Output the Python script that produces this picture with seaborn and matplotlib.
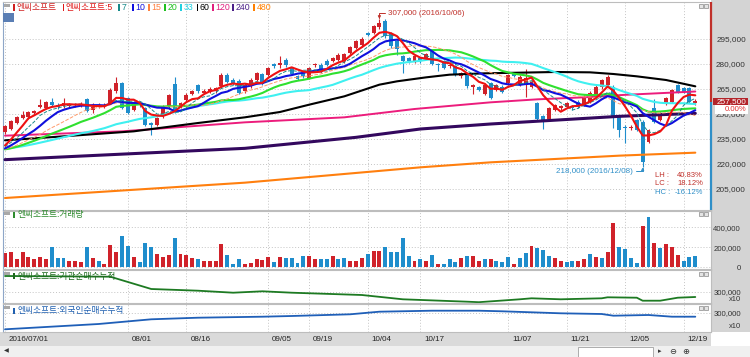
import numpy as np
import pandas as pd
import matplotlib
matplotlib.use('Agg')
import matplotlib.pyplot as plt
import matplotlib.transforms as mtrans
from matplotlib.patches import Rectangle
import seaborn as sns

sns.set_style('white')
plt.rcParams['font.family'] = ['Liberation Sans', 'Noto Sans CJK KR', 'DejaVu Sans']

# --- data (prices in thousand won) ---
holidays = ['2016-08-15', '2016-09-14', '2016-09-15', '2016-09-16', '2016-10-03']
dates = pd.bdate_range('2016-07-01', '2016-12-21', freq='C', holidays=holidays)

opens = [239.2, 241.2, 244.6, 247.6, 248.0, 250.6, 254.0, 253.6, 257.2, 255.6,
         254.6, 254.6, 255.2, 255.2, 258.8, 252.6, 254.6, 254.6, 256.6, 263.6,
         268.6, 259.6, 252.6, 256.6, 253.6, 244.6, 243.6, 248.6, 254.4, 268.0,
         254.6, 258.6, 262.0, 267.2, 262.6, 263.6, 263.6, 266.6, 273.6, 270.6,
         270.0, 263.6, 266.6, 270.6, 274.0, 273.6, 280.0, 279.2, 282.6, 277.6,
         272.6, 274.6, 271.6, 279.2, 279.6, 282.0, 282.0, 282.6, 281.6, 286.6,
         289.6, 291.2, 298.6, 298.6, 302.0, 306.0, 298.6, 293.6, 284.6, 283.6,
         281.6, 283.6, 283.6, 287.6, 280.0, 281.6, 278.6, 278.6, 272.6, 273.6,
         266.2, 266.0, 262.0, 268.6, 264.4, 266.4, 268.4, 274.4, 267.4, 267.4,
         266.4, 256.4, 248.8, 246.8, 252.4, 253.4, 254.4, 254.8, 257.4, 255.4,
         257.4, 261.4, 266.0, 267.4, 266.4, 248.4, 242.4, 241.4, 246.4, 245.4,
         233.4, 253.4, 246.4, 256.4, 257.4, 267.4, 265.4, 265.4, 256.4]
highs = [243.4, 246.4, 248.8, 251.6, 252.0, 252.4, 259.2, 258.0, 259.6, 256.4,
         259.6, 256.8, 256.8, 257.0, 259.6, 256.6, 256.4, 256.4, 265.4, 272.0,
         269.4, 260.4, 256.4, 257.4, 254.4, 245.4, 248.4, 255.4, 262.0, 272.0,
         257.4, 262.4, 264.4, 268.0, 264.8, 266.0, 266.4, 274.4, 274.6, 271.4,
         270.8, 268.4, 271.4, 275.4, 274.8, 278.4, 280.8, 284.6, 283.4, 278.4,
         273.4, 275.4, 278.4, 280.8, 280.4, 282.8, 284.4, 286.4, 286.8, 290.8,
         294.4, 296.0, 299.4, 303.4, 307.0, 306.8, 299.4, 294.4, 285.4, 284.4,
         285.4, 284.4, 286.8, 288.4, 280.8, 282.4, 280.4, 279.4, 275.4, 274.4,
         268.0, 266.8, 268.4, 269.4, 268.2, 267.2, 274.2, 275.2, 273.2, 276.8,
         270.2, 257.2, 249.6, 254.2, 256.2, 255.6, 257.2, 255.6, 258.2, 261.2,
         263.6, 267.2, 271.2, 273.2, 267.2, 249.2, 243.2, 243.2, 247.2, 246.2,
         241.2, 258.8, 251.2, 260.2, 265.2, 268.2, 266.2, 266.2, 258.8]
lows = [238.0, 240.4, 243.8, 246.8, 247.2, 249.8, 253.6, 252.8, 254.8, 253.2,
        253.6, 253.8, 254.4, 254.4, 251.2, 250.6, 253.8, 253.8, 255.8, 262.8,
        252.8, 249.8, 251.8, 254.4, 242.8, 237.6, 242.8, 247.8, 253.6, 250.8,
        253.8, 257.8, 261.2, 262.8, 261.8, 262.8, 262.8, 265.8, 268.4, 267.2,
        261.8, 262.8, 265.8, 269.8, 267.2, 272.8, 277.8, 277.6, 278.4, 273.2,
        270.4, 271.8, 270.8, 278.4, 274.8, 278.8, 281.2, 281.8, 280.8, 285.8,
        288.8, 290.4, 296.8, 297.8, 301.2, 295.8, 289.8, 285.6, 274.6, 280.8,
        280.8, 280.8, 282.8, 279.2, 275.6, 276.8, 277.8, 272.8, 271.8, 265.8,
        262.0, 263.8, 261.2, 258.8, 263.6, 262.6, 267.6, 272.0, 266.6, 260.4,
        265.6, 246.0, 240.8, 246.0, 251.6, 252.6, 253.6, 252.6, 253.6, 254.6,
        256.6, 260.6, 265.2, 266.6, 241.4, 236.4, 232.4, 240.6, 239.6, 218.0,
        232.6, 244.6, 245.6, 255.6, 256.6, 262.6, 262.6, 256.6, 255.6]
closes = [242.6, 245.6, 248.0, 249.6, 251.2, 251.6, 255.6, 257.2, 255.6, 254.0,
          256.6, 256.0, 256.0, 256.2, 252.0, 254.0, 255.6, 255.6, 264.6, 268.6,
          253.6, 250.6, 255.6, 255.2, 243.6, 243.2, 247.6, 254.6, 261.2, 251.6,
          256.6, 261.6, 263.6, 263.6, 264.0, 265.2, 265.6, 273.6, 269.2, 268.0,
          262.6, 267.6, 270.6, 274.6, 268.0, 277.6, 278.6, 280.6, 279.2, 274.0,
          271.2, 272.6, 277.6, 280.0, 275.6, 279.6, 283.6, 285.6, 286.0, 290.0,
          293.6, 295.2, 297.6, 302.6, 304.6, 296.6, 290.6, 289.2, 282.0, 281.6,
          284.6, 281.6, 286.0, 280.0, 279.2, 277.6, 279.6, 273.6, 274.6, 266.6,
          267.2, 264.6, 267.6, 259.6, 267.4, 263.4, 273.4, 272.8, 272.4, 271.4,
          269.4, 246.8, 246.4, 253.4, 255.4, 254.8, 256.4, 253.4, 254.4, 260.4,
          262.8, 266.4, 270.4, 272.4, 248.0, 240.4, 241.4, 242.4, 240.4, 221.0,
          240.4, 245.4, 250.4, 259.4, 264.4, 263.4, 263.4, 257.4, 257.5]
# closes before 2016/07/01, estimated from where the short averages start
prior_close = [231, 230, 232, 229, 228, 230, 231, 229, 227, 228, 230, 229, 231, 232, 230, 228,
               226, 227, 229, 228, 226, 227, 229, 228, 227, 226, 228, 229, 228, 227, 229, 229]

volume = [145, 155, 78, 155, 100, 78, 100, 80, 202, 95, 95, 60, 60, 55, 200, 90, 60, 35, 222, 155,
          312, 210, 100, 55, 245, 200, 135, 100, 120, 295, 135, 120, 90, 80, 60, 60, 60, 235, 120, 35,
          80, 35, 45, 78, 68, 102, 55, 102, 88, 88, 45, 112, 112, 78, 78, 78, 112, 78, 88, 60,
          60, 95, 130, 160, 160, 200, 155, 155, 295, 112, 60, 78, 60, 120, 35, 35, 78, 55, 88, 112,
          112, 60, 78, 78, 60, 53, 97, 30, 90, 143, 210, 187, 170, 110, 87, 60, 53, 60, 60, 80,
          130, 103, 87, 150, 443, 197, 177, 87, 43, 417, 503, 243, 187, 237, 203, 120, 63, 97, 110]
vol_dir = ('rrrrrrrrbbbrrrbrbrrrbbrbbbrrrbrrrbrrrrbbbr'
           'rrrrbrbbbbrrbbrbbrrrbrrbbbbbrbrbrbbbrbrrbrb'
           'bbrbbrbbbrrbbrrbrbrrbbbbrbrbrrrbbbr')

ma60_i = [0, 10, 22, 33, 41, 47, 52, 58, 64, 67, 72, 76, 82, 88, 94, 100, 104, 108, 113, 118]
ma60_v = [234.2, 236.6, 239.6, 244.6, 248.0, 251.2, 255.6, 260.6, 267.6, 269.6,
          272.0, 273.6, 274.4, 274.8, 275.2, 275.0, 274.0, 272.6, 270.4, 266.6]
ma120_i = [0, 20, 41, 58, 70, 83, 91, 99, 106, 118]
ma120_v = [237.0, 239.6, 245.0, 248.0, 253.0, 257.0, 258.8, 260.0, 261.5, 263.5]
ma240_i = [0, 41, 60, 71, 83, 95, 105, 118]
ma240_v = [222.6, 229.4, 236.0, 241.0, 244.0, 246.5, 248.6, 250.4]
ma480_i = [0, 41, 71, 83, 105, 118]
ma480_v = [199.6, 208.8, 218.0, 221.0, 225.0, 226.8]

inst_i = [0, 18, 25, 33, 39, 44, 49, 61, 68, 79, 81, 88, 90, 95, 102, 103, 108, 109, 112, 115, 118]
inst_v = [460, 453, 330, 313, 293, 307, 293, 270, 227, 203, 198, 227, 237, 227, 237, 247, 243, 213, 213, 243, 250]
frgn_i = [0, 16, 25, 33, 44, 49, 59, 64, 73, 81, 85, 90, 95, 102, 104, 110, 114, 118]
frgn_v = [137, 190, 237, 253, 263, 270, 287, 313, 323, 323, 317, 307, 297, 290, 273, 280, 263, 263]

tick_dates = ['2016-07-01', '2016-08-01', '2016-08-16', '2016-09-05', '2016-09-19', '2016-10-04',
              '2016-10-17', '2016-11-07', '2016-11-21', '2016-12-05', '2016-12-19']
tick_text = ['2016/07/01', '08/01', '08/16', '09/05', '09/19', '10/04', '10/17', '11/07', '11/21', '12/05', '12/19']

# --- derived ---
idx = np.arange(len(dates))
O, Hh, L, C = [np.array(a) * 1000 for a in (opens, highs, lows, closes)]
close_all = pd.Series(prior_close + closes) * 1000
ma = {n: close_all.rolling(n).mean().values[len(prior_close):] for n in (5, 7, 10, 15, 20, 33)}
tick_pos = dates.get_indexer(pd.to_datetime(tick_dates))

RED, BLUE = '#d0222a', '#1f8dcc'
W, Hpx = 750, 357


def rect(x0, y0, x1, y1):
    return [x0 / W, 1 - y1 / Hpx, (x1 - x0) / W, (y1 - y0) / Hpx]


fig = plt.figure(figsize=(7.5, 3.57), dpi=100)


def bg(x0, y0, x1, y1, color, z=-10, ec='none'):
    fig.patches.append(Rectangle((x0 / W, 1 - y1 / Hpx), (x1 - x0) / W, (y1 - y0) / Hpx,
                                 transform=fig.transFigure, facecolor=color, edgecolor=ec,
                                 lw=0.6, zorder=z))


bg(711, 0, 750, 331.5, '#d4d4d4')
bg(0, 331.5, 711, 346, '#dadada')
bg(0, 346, 750, 357, '#f0f0f0')

xlim = (-2 / 5.85, 706 / 5.85)
grid_kw = dict(color='#c4c4c4', linestyle=(0, (1, 2)), lw=0.7)

ax_p = fig.add_axes(rect(3, 2, 711, 209.5))
ax_v = fig.add_axes(rect(3, 210.5, 711, 269))
ax_g = fig.add_axes(rect(3, 270, 711, 303))
ax_f = fig.add_axes(rect(3, 304, 711, 331.5))

for ax in (ax_p, ax_v, ax_g, ax_f):
    ax.set_xlim(*xlim)
    ax.set_xticks(tick_pos)
    ax.grid(True, **grid_kw)
    ax.yaxis.tick_right()
    for s in ax.spines.values():
        s.set_color('#bdbdbd')
        s.set_linewidth(0.8)
    ax.spines['left'].set_color('#8ea6c8')
    ax.set_axisbelow(True)

# price panel
ax_p.set_ylim(192700, 317200)
ccol = np.where(C >= O, RED, BLUE)
ax_p.vlines(idx, L, Hh, colors=ccol, lw=0.8, zorder=3)
ax_p.bar(idx, np.maximum(np.abs(C - O), 700), bottom=np.minimum(O, C), width=0.68,
         color=ccol, linewidth=0, zorder=3)

long_ma = [(ma480_i, ma480_v, '#ff7f0e', 1.5), (ma240_i, ma240_v, '#33085e', 2.2),
           (ma120_i, ma120_v, '#ec1c7c', 1.4), (ma60_i, ma60_v, '#000000', 1.5)]
for xi, yv, col, lw in long_ma:
    sns.lineplot(x=xi, y=np.array(yv) * 1000, ax=ax_p, color=col, lw=lw, zorder=4)
short_ma = [(33, '#3ff0f0', 1.5, '-'), (20, '#2fe02f', 1.5, '-'), (15, '#ff9a6a', 0.7, '--'),
            (10, '#1010dd', 1.5, '-'), (7, '#1a8a8a', 0.7, '--'), (5, '#ee1111', 1.5, '-')]
for n, col, lw, ls in short_ma:
    sns.lineplot(x=idx, y=ma[n], ax=ax_p, color=col, lw=lw, linestyle=ls, zorder=5)

ax_p.set_yticks([205000, 220000, 235000, 250000, 265000, 280000, 295000])
ax_p.set_yticklabels([f'{v:,}' for v in ax_p.get_yticks().astype(int)])
ax_p.tick_params(axis='y', length=0, pad=25.2, labelsize=5.9, labelcolor='#333333')
for lab in ax_p.get_yticklabels():
    lab.set_horizontalalignment('right')
ax_p.tick_params(axis='x', length=0, labelbottom=False)
ax_p.set_ylabel('')

ax_p.annotate('307,000 (2016/10/06)', xy=(64, 307000), xytext=(6.3, 4), textcoords='offset points',
              ha='left', va='center', fontsize=5.8, color='#c0302a',
              arrowprops=dict(arrowstyle='-|>', color='#c0302a', lw=0.7, shrinkA=0, shrinkB=0,
                              mutation_scale=4, connectionstyle='angle,angleA=0,angleB=90,rad=0'))
ax_p.annotate('218,000 (2016/12/08)', xy=(109, 218000), xytext=(-7, -3), textcoords='offset points',
              ha='right', va='center', fontsize=5.8, color='#2f8fc8',
              arrowprops=dict(arrowstyle='-|>', color='#2f8fc8', lw=0.7, shrinkA=0, shrinkB=0,
                              mutation_scale=4, connectionstyle='angle,angleA=0,angleB=90,rad=0'))
ax_p.vlines(xlim[1], 257500, 317200, color='#c0302a', lw=1.6, clip_on=False, zorder=6)
ax_p.vlines(xlim[1], 192700, 257500, color='#2f8fc8', lw=1.6, clip_on=False, zorder=6)

# volume panel
ax_v.bar(idx, np.array(volume) * 1000, width=0.68, color=[RED if d == 'r' else BLUE for d in vol_dir],
         linewidth=0)
ax_v.set_ylim(-20000, 570000)
ax_v.set_yticks([0, 200000, 400000])
ax_v.set_yticklabels(['0', '200,000', '400,000'])

# cumulative net buying panels
sns.lineplot(x=inst_i, y=np.array(inst_v) * 1000, ax=ax_g, color='#1d7a22', lw=1.3)
ax_g.set_ylim(190000, 520000)
ax_g.set_yticks([300000])
ax_g.set_yticklabels(['300,000'])
sns.lineplot(x=frgn_i, y=np.array(frgn_v) * 1000, ax=ax_f, color='#1f5fb8', lw=1.3)
ax_f.set_ylim(115000, 390000)
ax_f.set_yticks([300000])
ax_f.set_yticklabels(['300,000'])

for ax in (ax_v, ax_g, ax_f):
    ax.set_ylabel('')
    ax.tick_params(axis='y', length=0, pad=21.6, labelsize=5.6, labelcolor='#333333')
    for lab in ax.get_yticklabels():
        lab.set_horizontalalignment('right')
for ax in (ax_v, ax_g):
    ax.tick_params(axis='x', length=0, labelbottom=False)

ax_f.set_xticklabels(tick_text)
ax_f.tick_params(axis='x', length=3, width=0.8, color='#9a9a9a', pad=0.5, labelsize=5.8,
                 labelcolor='#222222')
shift = mtrans.ScaledTranslation(4 / 100, 0, fig.dpi_scale_trans)
for lab in ax_f.get_xticklabels():
    lab.set_horizontalalignment('left')
    lab.set_transform(lab.get_transform() + shift)


def ftxt(x, y, s, **kw):
    return fig.text(x / W, 1 - y / Hpx, s, **kw)


ftxt(741, 299.8, 'x10', ha='right', va='center', fontsize=5.4, color='#333333')
ftxt(741, 326.5, 'x10', ha='right', va='center', fontsize=5.4, color='#333333')

# legend row
legend_items = [('엔씨소프트', '#d02020', 14), ('엔씨소프트:5', '#e01818', 63.5), ('7', '#168a8a', 119),
                ('10', '#1010e0', 133), ('15', '#ff8040', 149), ('20', '#20c020', 165),
                ('33', '#20d0e0', 181), ('60', '#000000', 197.5), ('120', '#e0207e', 213),
                ('240', '#4b2088', 233), ('480', '#ff8000', 254)]
for name, col, x in legend_items:
    bg(x - 0.8, 4.5, x + 0.8, 10.5, col, z=6)
    ftxt(x + 2.5, 7.6, name, ha='left', va='center', fontsize=6.3, color=col)

headers = [('엔씨소프트:거래량', '#2e8b2e', 215), ('엔씨소프트:기관순매수누적', '#1d6a1d', 276),
           ('엔씨소프트:외국인순매수누적', '#2060b0', 311)]
for name, col, y in headers:
    bg(13.5, y - 3, 15, y + 3, col, z=6)
    ftxt(17, y, name, ha='left', va='center', fontsize=6.3, color=col)

for y in (4, 212, 272, 306):
    bg(3.5, y, 10, y + 2.5, '#a8a8a8', z=6)
    bg(699, y, 703, y + 4, '#e4e4e4', z=6, ec='#9a9a9a')
    bg(704, y, 708, y + 4, '#e4e4e4', z=6, ec='#9a9a9a')

bg(3, 13, 14, 22, '#5a7eb4', z=6)
ftxt(8.5, 17.3, '文', ha='center', va='center', fontsize=5.5, color='white')

# last price box (the 250,000 label sits half hidden under it, as in the source chart)
bg(713, 97.6, 748, 104.8, '#b3242a', z=6)
ftxt(746.5, 101.2, '257,500', ha='right', va='center', fontsize=5.9, color='white', zorder=7)
bg(715, 105.5, 748, 113.5, '#ffffff', z=6)
ftxt(746.5, 109.5, '0.00%', ha='right', va='center', fontsize=5.6, color='#e03030', zorder=7)

for lab, val, col, y in [('LH :', '40.83%', '#c0302a', 175.5), ('LC :', '18.12%', '#c0302a', 183.5),
                         ('HC :', '-16.12%', '#2f8fc8', 192)]:
    ftxt(655, y, lab, ha='left', va='center', fontsize=5.5, color=col)
    ftxt(703, y, val, ha='right', va='center', fontsize=5.5, color=col)

# bottom bar
ftxt(6.5, 351, '◀', ha='center', va='center', fontsize=4.5, color='#333333', family='DejaVu Sans')
bg(578, 347, 653, 356.5, '#ffffff', z=6, ec='#a0a0a0')
ftxt(660, 351.5, '▸', ha='center', va='center', fontsize=5, color='#333333', family='DejaVu Sans')
ftxt(673, 351.5, '⊖', ha='center', va='center', fontsize=6, color='#333333', family='DejaVu Sans')
ftxt(686, 351.5, '⊕', ha='center', va='center', fontsize=6, color='#333333', family='DejaVu Sans')

fig.savefig('out.png', dpi=100)
